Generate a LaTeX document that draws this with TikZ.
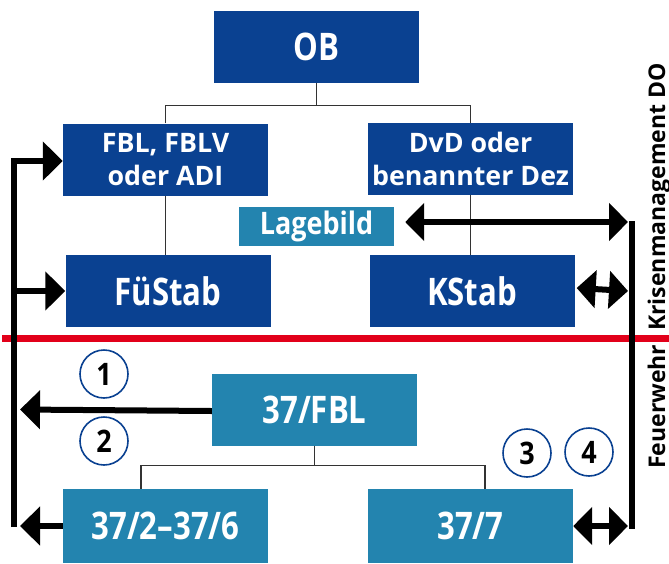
\documentclass[tikz,border=0pt]{standalone}
\usepackage{fontspec}
\setmainfont{Open Sans}
\newfontfamily\bigfont{Open Sans}[FakeStretch=0.82]
\newfontfamily\midfont{Open Sans}[FakeStretch=0.87]
\usepackage{xcolor}
\usetikzlibrary{arrows.meta,positioning}

\definecolor{dblue}{RGB}{10,65,145}
\definecolor{lblue}{RGB}{35,132,175}
\definecolor{cutred}{RGB}{226,0,26}

\begin{document}
\begin{tikzpicture}[
  x=1pt, y=-1pt,
  dbox/.style={rectangle, fill=dblue, text=white, minimum width=205pt,
               minimum height=72pt, align=center, inner sep=0pt,
               font=\bigfont\fontsize{38}{38}\selectfont\bfseries},
  lbox/.style={dbox, fill=lblue},
  twoline/.style={font=\fontsize{26.8}{33}\selectfont\bfseries},
  tree/.style={line width=1.2pt, black!80},
  flow/.style={line width=6pt, -{Triangle[length=20pt,width=38pt]}},
  both/.style={line width=6pt,
               {Triangle[length=19pt,width=37pt]}-{Triangle[length=19pt,width=37pt]}},
  bar/.style={line width=6pt},
  num/.style={circle, draw=dblue, line width=1.6pt, fill=white, minimum size=48pt,
              inner sep=0pt, font=\midfont\fontsize{31}{31}\selectfont\bfseries},
  side/.style={rotate=90, inner sep=0pt, font=\fontsize{23}{23}\selectfont\bfseries},
]
\useasboundingbox (0,0) rectangle (669,563);

% Top: OB, leaders, staffs
\node[dbox] (ob) at (316.5,47) {OB};
\node[dbox, twoline] (fbl) at (165.5,159.5) {FBL, FBLV\\oder ADI};
\node[dbox, twoline] (dvd) at (470.5,159) {DvD oder\\benannter Dez};
\node[dbox] (fue) at (168,291) {FüStab};
\node[dbox] (kstab) at (472,291) {KStab};
\node[lbox, minimum width=155pt, minimum height=39pt,
      font=\midfont\fontsize{31}{31}\selectfont\bfseries] (lage) at (316.5,226.5) {Lagebild};

% Bottom: fire brigade
\node[lbox] (fbl37) at (314.5,409.5) {37/FBL};
\node[lbox, minimum height=74pt] (sub26) at (165.5,526) {37/2–37/6};
\node[lbox, minimum height=74pt] (sub7) at (470.5,526) {37/7};

% Tree lines
\draw[tree] (ob.south) -- ++(0,22) coordinate (j1);
\draw[tree] (fbl.north) |- (j1) -| (dvd.north);
\draw[tree] (fbl.south) -- (fbl.south |- fue.north);
\draw[tree] (dvd.south) -- (dvd.south |- kstab.north);
\draw[tree] (fbl37.south) -- ++(0,20) coordinate (j2);
\draw[tree] ([xshift=-24.5pt]sub26.north) |- (j2) -| ([xshift=14.5pt]sub7.north);

% Divider
\draw[cutred, line width=7pt] (2,338) coordinate (rl) -- (669,338) coordinate (rr);

% Left bar and arrows
\coordinate (lbot) at (14,527);
\draw[flow] (lbot) |- ([yshift=-1.5pt]fbl.west);
\draw[flow] (lbot |- fue.west) -- (fue.west);
\draw[flow] ([yshift=-1.5pt]fbl37.west) -- ([xshift=6pt]lbot |- fbl37.west);
\draw[flow] (sub26.west) -- ([xshift=6pt]lbot |- sub26.west);

% Right bar and arrows
\coordinate (rtop) at (632,222);
\coordinate (rbot) at (632,529);
\draw[bar] ([yshift=1pt]rtop) -- (rbot);
\draw[both] ([shift={(11,-4.5)}]lage.east) -- ([xshift=-4pt]rtop);
\draw[both] ([shift={(2,-3)}]kstab.east) -- ([xshift=-4pt]rtop |- kstab.east);
\draw[both] (sub7.east) -- ([xshift=-4pt]rtop |- sub7.east);

% Numbers
\node[num] (n1) at (104,374) {1};
\node[num] (n2) at (104,441) {2};
\node[num] (n3) at (527,453) {3};
\node[num] (n4) at (589,452) {4};

% Side labels
\node[side, anchor=base west] (krise) at (665,331) {Krisenmanagement DO};
\node[side, anchor=base west] (fw) at (665,469) {Feuerwehr};
\end{tikzpicture}
\end{document}
